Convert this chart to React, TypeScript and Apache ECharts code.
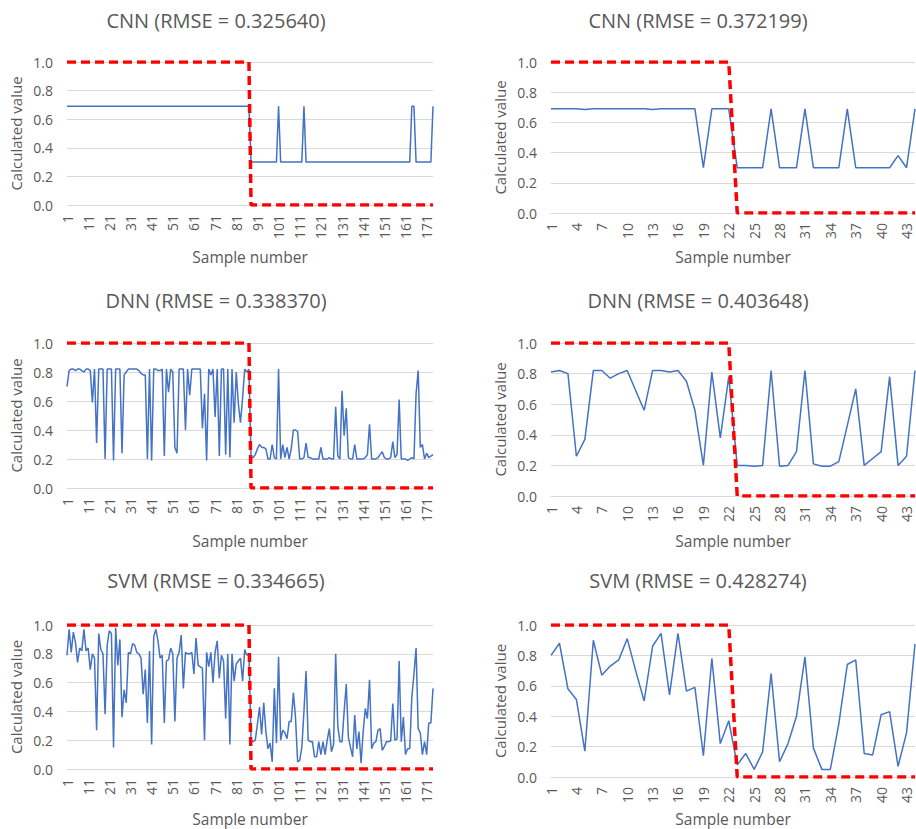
import React, { useEffect, useRef } from "react";
import * as echarts from "echarts";

// ---------- DATA ----------
const titles = [
  "CNN (RMSE = 0.325640)",
  "CNN (RMSE = 0.372199)",
  "DNN (RMSE = 0.338370)",
  "DNN (RMSE = 0.403648)",
  "SVM (RMSE = 0.334665)",
  "SVM (RMSE = 0.428274)",
];
const yAxisTitle = "Calculated value";
const xAxisTitle = "Sample number";
const yTicks = [0, 0.2, 0.4, 0.6, 0.8, 1.0];

// actual class of each sample (left: 174 samples, right: 44 samples)
const actualLeft = [
  1, 1, 1, 1, 1, 1, 1, 1, 1, 1,
  1, 1, 1, 1, 1, 1, 1, 1, 1, 1,
  1, 1, 1, 1, 1, 1, 1, 1, 1, 1,
  1, 1, 1, 1, 1, 1, 1, 1, 1, 1,
  1, 1, 1, 1, 1, 1, 1, 1, 1, 1,
  1, 1, 1, 1, 1, 1, 1, 1, 1, 1,
  1, 1, 1, 1, 1, 1, 1, 1, 1, 1,
  1, 1, 1, 1, 1, 1, 1, 1, 1, 1,
  1, 1, 1, 1, 1, 1, 1,
  0, 0, 0, 0, 0, 0, 0, 0, 0, 0,
  0, 0, 0, 0, 0, 0, 0, 0, 0, 0,
  0, 0, 0, 0, 0, 0, 0, 0, 0, 0,
  0, 0, 0, 0, 0, 0, 0, 0, 0, 0,
  0, 0, 0, 0, 0, 0, 0, 0, 0, 0,
  0, 0, 0, 0, 0, 0, 0, 0, 0, 0,
  0, 0, 0, 0, 0, 0, 0, 0, 0, 0,
  0, 0, 0, 0, 0, 0, 0, 0, 0, 0,
  0, 0, 0, 0, 0, 0, 0,
];
const actualRight = [
  1, 1, 1, 1, 1, 1, 1, 1, 1, 1,
  1, 1, 1, 1, 1, 1, 1, 1, 1, 1,
  1, 1,
  0, 0, 0, 0, 0, 0, 0, 0, 0, 0,
  0, 0, 0, 0, 0, 0, 0, 0, 0, 0,
  0, 0,
];

const cnnLeft = [
  0.69, 0.69, 0.69, 0.69, 0.69, 0.69, 0.69, 0.69, 0.69, 0.69,
  0.69, 0.69, 0.69, 0.69, 0.69, 0.69, 0.69, 0.69, 0.69, 0.69,
  0.69, 0.69, 0.69, 0.69, 0.69, 0.69, 0.69, 0.69, 0.69, 0.69,
  0.69, 0.69, 0.69, 0.69, 0.69, 0.69, 0.69, 0.69, 0.69, 0.69,
  0.69, 0.69, 0.69, 0.69, 0.69, 0.69, 0.69, 0.69, 0.69, 0.69,
  0.69, 0.69, 0.69, 0.69, 0.69, 0.69, 0.69, 0.69, 0.69, 0.69,
  0.69, 0.69, 0.69, 0.69, 0.69, 0.69, 0.69, 0.69, 0.69, 0.69,
  0.69, 0.69, 0.69, 0.69, 0.69, 0.69, 0.69, 0.69, 0.69, 0.69,
  0.69, 0.69, 0.69, 0.69, 0.69, 0.69, 0.69,
  0.3, 0.3, 0.3, 0.3, 0.3, 0.3, 0.3, 0.3, 0.3, 0.3,
  0.3, 0.3, 0.3, 0.69, 0.3, 0.3, 0.3, 0.3, 0.3, 0.3,
  0.3, 0.3, 0.3, 0.3, 0.3, 0.69, 0.3, 0.3, 0.3, 0.3,
  0.3, 0.3, 0.3, 0.3, 0.3, 0.3, 0.3, 0.3, 0.3, 0.3,
  0.3, 0.3, 0.3, 0.3, 0.3, 0.3, 0.3, 0.3, 0.3, 0.3,
  0.3, 0.3, 0.3, 0.3, 0.3, 0.3, 0.3, 0.3, 0.3, 0.3,
  0.3, 0.3, 0.3, 0.3, 0.3, 0.3, 0.3, 0.3, 0.3, 0.3,
  0.3, 0.3, 0.3, 0.3, 0.3, 0.3, 0.69, 0.69, 0.3, 0.3,
  0.3, 0.3, 0.3, 0.3, 0.3, 0.3, 0.69,
];

const cnnRight = [
  0.69, 0.69, 0.69, 0.69, 0.685, 0.69, 0.69, 0.69, 0.69, 0.69,
  0.69, 0.69, 0.685, 0.69, 0.69, 0.69, 0.69, 0.69, 0.3, 0.69,
  0.69, 0.69, 0.3, 0.3, 0.3, 0.3, 0.69, 0.3, 0.3, 0.3,
  0.69, 0.3, 0.3, 0.3, 0.3, 0.69, 0.3, 0.3, 0.3, 0.3,
  0.3, 0.38, 0.3, 0.69,
];

const dnnLeft = [
  0.7, 0.81, 0.82, 0.82, 0.81, 0.82, 0.82, 0.81, 0.8, 0.82,
  0.82, 0.81, 0.59, 0.82, 0.31, 0.82, 0.82, 0.82, 0.2, 0.82,
  0.82, 0.82, 0.19, 0.82, 0.82, 0.82, 0.24, 0.78, 0.8, 0.82,
  0.82, 0.82, 0.82, 0.82, 0.81, 0.79, 0.78, 0.78, 0.2, 0.82,
  0.19, 0.82, 0.82, 0.81, 0.81, 0.82, 0.22, 0.82, 0.66, 0.82,
  0.8, 0.28, 0.24, 0.82, 0.82, 0.82, 0.4, 0.82, 0.64, 0.82,
  0.82, 0.82, 0.82, 0.82, 0.41, 0.65, 0.19, 0.82, 0.78, 0.82,
  0.49, 0.82, 0.22, 0.82, 0.82, 0.23, 0.82, 0.21, 0.82, 0.45,
  0.8, 0.58, 0.45, 0.62, 0.82, 0.8, 0.82,
  0.21, 0.21, 0.23, 0.27, 0.3, 0.28, 0.28, 0.27, 0.2, 0.2,
  0.3, 0.21, 0.2, 0.82, 0.2, 0.3, 0.21, 0.28, 0.2, 0.27,
  0.4, 0.4, 0.39, 0.2, 0.2, 0.21, 0.31, 0.21, 0.21, 0.2,
  0.2, 0.2, 0.2, 0.28, 0.2, 0.2, 0.2, 0.21, 0.2, 0.2,
  0.56, 0.22, 0.2, 0.67, 0.36, 0.55, 0.21, 0.2, 0.2, 0.3,
  0.2, 0.2, 0.2, 0.2, 0.21, 0.23, 0.44, 0.2, 0.2, 0.2,
  0.21, 0.23, 0.25, 0.21, 0.2, 0.2, 0.21, 0.32, 0.21, 0.23,
  0.61, 0.2, 0.2, 0.2, 0.19, 0.2, 0.21, 0.2, 0.65, 0.81,
  0.28, 0.3, 0.2, 0.24, 0.21, 0.22, 0.23,
];

const dnnRight = [
  0.81, 0.82, 0.8, 0.26, 0.37, 0.82, 0.82, 0.77, 0.8, 0.82,
  0.69, 0.56, 0.82, 0.82, 0.81, 0.82, 0.75, 0.56, 0.2, 0.81,
  0.38, 0.78, 0.2, 0.2, 0.195, 0.2, 0.82, 0.195, 0.2, 0.29,
  0.82, 0.21, 0.195, 0.195, 0.225, 0.46, 0.7, 0.2, 0.245, 0.29,
  0.78, 0.2, 0.26, 0.82,
];

const svmLeft = [
  0.79, 0.97, 0.81, 0.95, 0.88, 0.74, 0.84, 0.82, 0.97, 0.82,
  0.84, 0.69, 0.8, 0.77, 0.27, 0.94, 0.83, 0.8, 0.38, 0.86,
  0.96, 0.94, 0.15, 0.98, 0.72, 0.9, 0.36, 0.55, 0.46, 0.81,
  0.8, 0.87, 0.86, 0.81, 0.8, 0.77, 0.52, 0.69, 0.32, 0.82,
  0.17, 0.92, 0.97, 0.89, 0.77, 0.79, 0.32, 0.75, 0.76, 0.84,
  0.8, 0.33, 0.77, 0.81, 0.93, 0.56, 0.81, 0.8, 0.8, 0.81,
  0.66, 0.91, 0.72, 0.71, 0.7, 0.2, 0.81, 0.71, 0.81, 0.6,
  0.81, 0.89, 0.63, 0.79, 0.75, 0.35, 0.8, 0.17, 0.8, 0.61,
  0.73, 0.75, 0.77, 0.61, 0.83, 0.79, 0.8,
  0.2, 0.19, 0.2, 0.31, 0.43, 0.24, 0.46, 0.26, 0.14, 0.18,
  0.05, 0.56, 0.18, 0.78, 0.2, 0.27, 0.25, 0.21, 0.33, 0.33,
  0.53, 0.36, 0.05, 0.06, 0.15, 0.4, 0.68, 0.2, 0.19, 0.19,
  0.085, 0.085, 0.19, 0.1, 0.19, 0.1, 0.2, 0.28, 0.12, 0.17,
  0.8, 0.3, 0.19, 0.19, 0.4, 0.59, 0.22, 0.15, 0.085, 0.375,
  0.14, 0.26, 0.04, 0.26, 0.42, 0.35, 0.62, 0.14, 0.18, 0.19,
  0.27, 0.28, 0.13, 0.155, 0.19, 0.19, 0.195, 0.455, 0.2, 0.21,
  0.75, 0.19, 0.36, 0.1, 0.14, 0.14, 0.5, 0.66, 0.84, 0.28,
  0.25, 0.1, 0.19, 0.1, 0.32, 0.32, 0.56,
];

const svmRight = [
  0.8, 0.88, 0.58, 0.51, 0.17, 0.9, 0.67, 0.73, 0.77, 0.91,
  0.7, 0.5, 0.86, 0.945, 0.54, 0.945, 0.565, 0.59, 0.14, 0.78,
  0.22, 0.37, 0.08, 0.155, 0.05, 0.165, 0.68, 0.1, 0.22, 0.4,
  0.79, 0.19, 0.05, 0.05, 0.35, 0.74, 0.77, 0.155, 0.145, 0.41,
  0.43, 0.07, 0.29, 0.875,
];

// sample numbers (category labels)
const samplesLeft = actualLeft.map((_, i) => String(i + 1));
const samplesRight = actualRight.map((_, i) => String(i + 1));

// ---------- STYLE / LAYOUT ----------
const FONT = "'Open Sans', 'Noto Sans', sans-serif";
const TEXT = "#595959";
const GRID = "#d9d9d9";
const BLUE = "#4472C4";
const RED = "#FF0000";

const colLeft = [67, 551];
const colWidth = [366, 364];
const rowTop = [62, 343, 625];
const plotHeight = [
  [143, 151],
  [145, 153],
  [144, 152],
];
const titleTop = [10, 290, 570];
const titleX = [216, 698];
const xNameGap = [
  [44, 36],
  [45, 37],
  [42, 34],
];

const panels = [
  { pred: cnnLeft, actual: actualLeft, cats: samplesLeft, labelEvery: 10 },
  { pred: cnnRight, actual: actualRight, cats: samplesRight, labelEvery: 3 },
  { pred: dnnLeft, actual: actualLeft, cats: samplesLeft, labelEvery: 10 },
  { pred: dnnRight, actual: actualRight, cats: samplesRight, labelEvery: 3 },
  { pred: svmLeft, actual: actualLeft, cats: samplesLeft, labelEvery: 10 },
  { pred: svmRight, actual: actualRight, cats: samplesRight, labelEvery: 3 },
];

function buildOption() {
  const title: any[] = [];
  const grid: any[] = [];
  const xAxis: any[] = [];
  const yAxis: any[] = [];
  const series: any[] = [];

  panels.forEach((p, i) => {
    const row = Math.floor(i / 2);
    const col = i % 2;
    title.push({
      text: titles[i],
      left: titleX[col],
      top: titleTop[row],
      textAlign: "center",
      padding: 0,
      textStyle: { color: TEXT, fontSize: 20, fontWeight: "normal", fontFamily: FONT },
    });
    grid.push({
      left: colLeft[col],
      top: rowTop[row],
      width: colWidth[col],
      height: plotHeight[row][col],
      containLabel: false,
    });
    xAxis.push({
      type: "category",
      gridIndex: i,
      data: p.cats,
      boundaryGap: false,
      axisLine: { show: true, lineStyle: { color: GRID, width: 1 } },
      axisTick: { show: false },
      splitLine: { show: false },
      axisLabel: {
        interval: p.labelEvery - 1,
        rotate: 90,
        color: TEXT,
        fontSize: 14,
        fontFamily: FONT,
        margin: 10,
      },
      name: xAxisTitle,
      nameLocation: "middle",
      nameGap: xNameGap[row][col],
      nameTextStyle: { color: TEXT, fontSize: 15.5, fontFamily: FONT },
    });
    yAxis.push({
      type: "value",
      gridIndex: i,
      min: yTicks[0],
      max: yTicks[yTicks.length - 1],
      interval: 0.2,
      axisLine: { show: false },
      axisTick: { show: false },
      splitLine: { show: true, lineStyle: { color: GRID, width: 1 } },
      axisLabel: {
        color: TEXT,
        fontSize: 14,
        fontFamily: FONT,
        margin: 14,
        formatter: (v: number) => v.toFixed(1),
      },
      name: yAxisTitle,
      nameLocation: "middle",
      nameGap: 44,
      nameTextStyle: { color: TEXT, fontSize: 15, fontFamily: FONT },
    });
    series.push({
      type: "line",
      xAxisIndex: i,
      yAxisIndex: i,
      data: p.pred,
      symbol: "none",
      z: 2,
      lineStyle: { color: BLUE, width: 1.5 },
    });
    series.push({
      type: "line",
      xAxisIndex: i,
      yAxisIndex: i,
      data: p.actual,
      symbol: "none",
      z: 3,
      lineStyle: { color: RED, width: 3.5, type: [9, 5] },
    });
  });

  return {
    animation: false,
    backgroundColor: "#ffffff",
    title,
    grid,
    xAxis,
    yAxis,
    series,
  };
}

export default function App() {
  const ref = useRef<HTMLDivElement>(null);
  useEffect(() => {
    document.body.style.margin = "0";
    const chart = echarts.init(ref.current as HTMLDivElement, null, { renderer: "svg" });
    chart.setOption(buildOption() as any);
    return () => chart.dispose();
  }, []);
  return <div ref={ref} style={{ width: 916, height: 829 }} />;
}
